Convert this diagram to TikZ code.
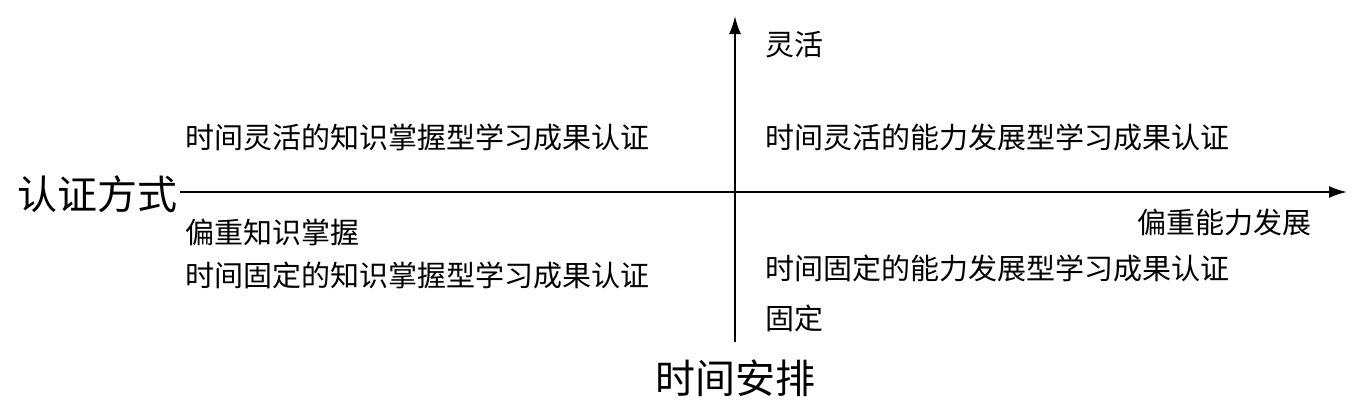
\documentclass[tikz,border=0pt]{standalone}
\usepackage{fontspec}
\setmainfont{Noto Sans CJK SC}
\usetikzlibrary{arrows.meta}
\tikzset{lbl/.style={anchor=west,inner sep=0pt,font=\fontsize{29}{30}\selectfont},
 big/.style={inner sep=0pt,font=\fontsize{40}{42}\selectfont},
 axis/.style={line width=2pt,-{Latex[length=18pt,width=12pt]}}}
\begin{document}
\begin{tikzpicture}[x=1pt,y=-1pt]
\useasboundingbox (0,0) rectangle (1368,402);
\coordinate (xs) at (180,192); \coordinate (xe) at (1347,192);
\coordinate (ys) at (735,342); \coordinate (ye) at (735,16);
\draw[axis] (xs) -- (xe);
\draw[axis] (ys) -- (ye);
\node[lbl] (a) at (765,45) {灵活};
\node[lbl] (b) at (185,137) {时间灵活的知识掌握型学习成果认证};
\node[lbl] (c) at (765,137) {时间灵活的能力发展型学习成果认证};
\node[big,anchor=east] (d) at (178,194) {认证方式};
\node[lbl] (e) at (185,232) {偏重知识掌握};
\node[lbl] (f) at (1137,222) {偏重能力发展};
\node[lbl] (g) at (185,275) {时间固定的知识掌握型学习成果认证};
\node[lbl] (h) at (765,268) {时间固定的能力发展型学习成果认证};
\node[lbl] (i) at (765,318) {固定};
\node[big] (j) at (735,378) {时间安排};
\end{tikzpicture}
\end{document}
